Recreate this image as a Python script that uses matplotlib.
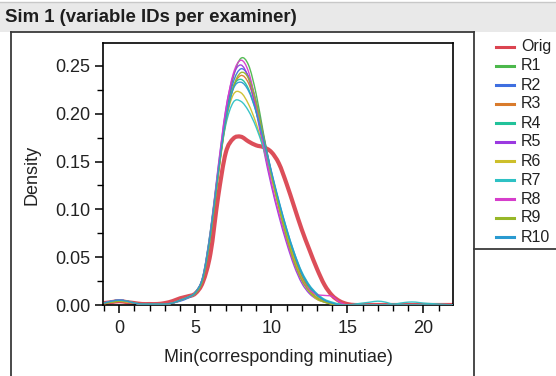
import matplotlib
matplotlib.use("Agg")
import matplotlib.pyplot as plt
import numpy as np
from matplotlib.path import Path
from matplotlib.patches import PathPatch, Rectangle
from matplotlib.lines import Line2D
from matplotlib.ticker import MultipleLocator, FormatStrFormatter

plt.rcParams['font.family'] = ['Liberation Sans', 'DejaVu Sans']

# ---------------- data ----------------
x_grid = [-1, -0.5, 0, 0.5, 1, 1.5, 2, 2.5, 3, 3.5, 4, 4.5, 5, 5.5,
          6, 6.5, 7, 7.5, 8, 8.5, 9, 9.5, 10, 10.5, 11, 11.5, 12, 12.5, 13, 13.5, 14, 14.5, 15,
          15.5, 16, 16.5, 17, 17.5, 18, 18.5, 19, 19.5, 20, 21, 22]

orig = [0.002, 0.003, 0.004, 0.003, 0.002, 0.001, 0.001, 0.001, 0.002, 0.004, 0.007, 0.009, 0.012, 0.024,
        0.054, 0.113, 0.159, 0.174, 0.176, 0.171, 0.167, 0.165, 0.160, 0.148, 0.127, 0.103, 0.079, 0.058, 0.038, 0.021, 0.010, 0.004, 0.001,
        0, 0, 0, 0, 0, 0, 0, 0, 0, 0, 0, 0]
r1 = [0.002, 0.004, 0.005, 0.004, 0.002, 0.001, 0.001, 0.001, 0.001, 0.002, 0.005, 0.008, 0.012, 0.027,
      0.072, 0.135, 0.196, 0.238, 0.258, 0.251, 0.221, 0.178, 0.138, 0.104, 0.075, 0.050, 0.030, 0.018, 0.010, 0.005, 0.002, 0.001, 0.000,
      0, 0, 0, 0, 0, 0, 0, 0, 0, 0, 0, 0]
r2 = [0.002, 0.003, 0.005, 0.004, 0.002, 0.001, 0.001, 0.001, 0.001, 0.002, 0.004, 0.007, 0.012, 0.028,
      0.074, 0.138, 0.196, 0.233, 0.247, 0.239, 0.213, 0.176, 0.140, 0.107, 0.078, 0.053, 0.033, 0.020, 0.011, 0.005, 0.002, 0.000, 0.000,
      0, 0, 0, 0, 0, 0, 0, 0, 0, 0, 0, 0]
r3 = [0.001, 0.003, 0.004, 0.003, 0.002, 0.001, 0.001, 0.001, 0.001, 0.002, 0.005, 0.008, 0.013, 0.028,
      0.074, 0.136, 0.192, 0.227, 0.240, 0.232, 0.207, 0.172, 0.136, 0.103, 0.074, 0.049, 0.029, 0.016, 0.008, 0.004, 0.001, 0.000, 0.000,
      0, 0, 0, 0, 0, 0, 0, 0, 0, 0, 0, 0]
r4 = [0.002, 0.004, 0.005, 0.004, 0.002, 0.001, 0.001, 0.001, 0.001, 0.002, 0.005, 0.008, 0.013, 0.029,
      0.076, 0.139, 0.195, 0.228, 0.236, 0.226, 0.202, 0.170, 0.137, 0.106, 0.078, 0.053, 0.033, 0.019, 0.010, 0.005, 0.002, 0.000, 0.000,
      0, 0, 0, 0, 0, 0, 0, 0, 0, 0, 0, 0]
r5 = [0.002, 0.004, 0.005, 0.004, 0.002, 0.001, 0.001, 0.001, 0.001, 0.002, 0.005, 0.008, 0.013, 0.030,
      0.078, 0.144, 0.204, 0.240, 0.251, 0.237, 0.203, 0.162, 0.125, 0.093, 0.065, 0.041, 0.023, 0.012, 0.006, 0.003, 0.001, 0.000, 0.000,
      0, 0, 0, 0, 0, 0, 0, 0, 0, 0, 0, 0]
r6 = [0.002, 0.003, 0.004, 0.003, 0.002, 0.001, 0.001, 0.001, 0.001, 0.002, 0.005, 0.008, 0.013, 0.029,
      0.077, 0.140, 0.192, 0.220, 0.222, 0.210, 0.190, 0.163, 0.133, 0.102, 0.073, 0.047, 0.027, 0.014, 0.006, 0.003, 0.001, 0.000, 0.000,
      0, 0, 0, 0, 0, 0, 0, 0, 0, 0, 0, 0]
r7 = [0.002, 0.004, 0.005, 0.004, 0.002, 0.001, 0.001, 0.001, 0.001, 0.002, 0.005, 0.008, 0.013, 0.030,
      0.078, 0.139, 0.188, 0.212, 0.213, 0.203, 0.186, 0.163, 0.137, 0.108, 0.080, 0.055, 0.035, 0.021, 0.012, 0.006, 0.003, 0.001, 0.000,
      0.001, 0.002, 0.003, 0.004, 0.003, 0.001, 0.002, 0.003, 0.003, 0.002, 0.001, 0.000]
r8 = [0.002, 0.004, 0.005, 0.004, 0.002, 0.001, 0.001, 0.001, 0.001, 0.002, 0.005, 0.008, 0.012, 0.029,
      0.076, 0.142, 0.203, 0.242, 0.256, 0.244, 0.210, 0.167, 0.128, 0.096, 0.068, 0.044, 0.026, 0.016, 0.011, 0.010, 0.009, 0.003, 0.000,
      0, 0, 0, 0, 0, 0, 0, 0, 0, 0, 0, 0]
r9 = [0.002, 0.003, 0.004, 0.004, 0.002, 0.001, 0.001, 0.001, 0.001, 0.002, 0.005, 0.008, 0.012, 0.027,
      0.072, 0.134, 0.191, 0.228, 0.243, 0.237, 0.212, 0.175, 0.137, 0.102, 0.071, 0.045, 0.026, 0.014, 0.007, 0.003, 0.001, 0.000, 0.000,
      0, 0, 0, 0, 0, 0, 0, 0, 0, 0, 0, 0]
r10 = [0.002, 0.004, 0.005, 0.004, 0.002, 0.001, 0.001, 0.001, 0.001, 0.002, 0.005, 0.008, 0.013, 0.029,
       0.075, 0.138, 0.193, 0.226, 0.233, 0.224, 0.202, 0.172, 0.140, 0.109, 0.080, 0.055, 0.034, 0.020, 0.011, 0.005, 0.002, 0.000, 0.000,
       0, 0, 0, 0, 0, 0, 0, 0, 0, 0, 0, 0]

series_names = ["Orig", "R1", "R2", "R3", "R4", "R5", "R6", "R7", "R8", "R9", "R10"]
series_values = [orig, r1, r2, r3, r4, r5, r6, r7, r8, r9, r10]
series_colors = ["#DB4450", "#4CB84C", "#3F6FE0", "#D97B2C", "#22C29A", "#9B39E0",
                 "#CDBF2B", "#2EC1C4", "#D63ECB", "#97B728", "#2A9AD0"]

x_ticks = [0, 5, 10, 15, 20]
y_ticks = [0.00, 0.05, 0.10, 0.15, 0.20, 0.25]

title = "Sim 1 (variable IDs per examiner)"
x_label = "Min(corresponding minutiae)"
y_label = "Density"

# ---------------- layout ----------------
W, H = 556, 376
fig = plt.figure(figsize=(W / 100, H / 100), dpi=100)


def fx(px):
    return px / W


def fy(py):
    return 1 - py / H


# title bar
fig.patches.append(Rectangle((0, fy(32)), 1, 30 / H, transform=fig.transFigure,
                             facecolor="#e9e9e9", edgecolor="none", zorder=0))
fig.add_artist(Line2D([0, 1], [fy(2), fy(2)], color="#c8c8c8", lw=1))
fig.text(fx(5), fy(17.5), title, fontsize=13.4, fontweight="bold", ha="left", va="center", color="#1e1e1e")

# frame lines
frame_col = "#3a3a3a"
fig.add_artist(Line2D([fx(11), fx(11)], [fy(32), 0], color=frame_col, lw=1.3))
fig.add_artist(Line2D([fx(11), fx(474)], [fy(32), fy(32)], color=frame_col, lw=1.3))
fig.add_artist(Line2D([fx(474), fx(474)], [fy(32), 0], color=frame_col, lw=1.3))
fig.add_artist(Line2D([fx(474), 1], [fy(249), fy(249)], color=frame_col, lw=1.3))

ax = fig.add_axes([fx(103), fy(305), (453 - 103) / W, (305 - 43) / H])
ax.set_xlim(-1.07, 21.95)
ax.set_ylim(0, 0.274)


def smooth_path(xs, ys):
    pts = np.column_stack([xs, ys]).astype(float)
    n = len(pts)
    verts = [pts[0]]
    codes = [Path.MOVETO]
    for i in range(n - 1):
        p0 = pts[max(i - 1, 0)]
        p1 = pts[i]
        p2 = pts[i + 1]
        p3 = pts[min(i + 2, n - 1)]
        c1 = p1 + (p2 - p0) / 6.0
        c2 = p2 - (p3 - p1) / 6.0
        verts += [c1, c2, p2]
        codes += [Path.CURVE4] * 3
    return Path(verts, codes)


for k, (name, vals, col) in enumerate(zip(series_names, series_values, series_colors)):
    lw = 3.0 if name == "Orig" else 1.0
    patch = PathPatch(smooth_path(x_grid, vals), facecolor="none", edgecolor=col, lw=lw,
                      zorder=2 if name == "Orig" else 3, alpha=0.95)
    ax.add_patch(patch)

for s in ax.spines.values():
    s.set_linewidth(1.2)
    s.set_color("black")

ax.set_xticks(x_ticks)
ax.set_yticks(y_ticks)
ax.xaxis.set_minor_locator(MultipleLocator(1))
ax.yaxis.set_minor_locator(MultipleLocator(0.025))
ax.yaxis.set_major_formatter(FormatStrFormatter("%.2f"))
ax.tick_params(which="major", direction="out", length=6, width=1.1, labelsize=13,
               labelcolor="#222222", pad=3)
ax.tick_params(axis="x", which="major", pad=5)
ax.tick_params(which="minor", direction="out", length=4, width=1.0)

fig.text(fx(32), fy(175), y_label, rotation=90, fontsize=13, ha="center", va="center", color="#222222")
fig.text(fx(278), fy(357), x_label, fontsize=13, ha="center", va="center", color="#222222")

# legend
for i, (name, col) in enumerate(zip(series_names, series_colors)):
    yy = 47 + 19 * i
    fig.add_artist(Line2D([fx(496), fx(514)], [fy(yy), fy(yy)], color=col, lw=2.2))
    fig.text(fx(521), fy(yy), name, fontsize=11.5, ha="left", va="center", color="#222222")

fig.savefig("out.png", dpi=100)
